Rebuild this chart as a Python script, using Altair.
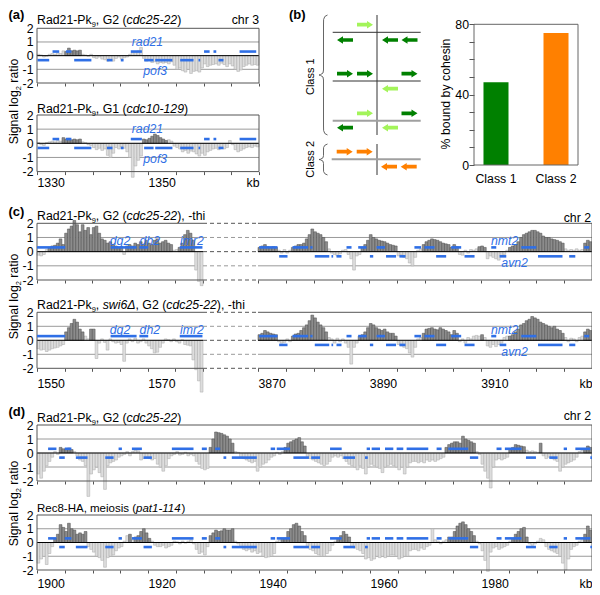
import altair as alt
import pandas as pd

W, H = 584, 582
FONT = "Liberation Sans"
FS = 12.3
SUB = 7.5
BLUE = "#2f6fe6"
FRAME = "#555555"
GRID = "#9a9a9a"
DARK_FILL, DARK_EDGE = "#8c8c8c", "#4a4a4a"
LIGHT_FILL, LIGHT_EDGE = "#dddddd", "#a8a8a8"
GREEN, LIGHTGREEN, ORANGE = "#008000", "#a3f45a", "#ff8000"


def nums(s):
    return [float(t) for t in s.split()]


# ---------------- (a) chr 3, 1330-1370 kb (0.5 kb probes) ----------------
A_START = 1330.0
A_G2 = nums("""
0.1 0.05 -0.1 -0.05 0.1 0.15 0.1 0.2 0.15 0.35
0.3 0.55 0.35 0.4 0.35 0.4 0.1 0.05 -0.05 0.1
-0.15 -0.2 -0.1 -0.25 -0.3 -0.4 -0.35 -0.4 -0.2 -0.1
-0.25 -0.15 -0.1 0.1 0.25 0.3 0.35 0.6 -0.2 -0.4
-0.35 -0.5 -0.45 -0.6 -0.5 -0.55 -0.5 -0.6 -0.45 -0.7
-1.0 -0.9 -1.1 -1.2 -1.0 -1.3 -1.15 -1.1 -1.2 -0.9
-0.6 -0.8 -0.7 -0.65 -0.6 -0.7 -0.55 -0.65 -0.8 -0.6
-0.75 -1.0 -1.15 -1.05 -0.8 -0.7 -0.6 -0.7 -0.65 -0.7
""")
A_G1 = nums("""
0.05 -0.1 -0.15 0.05 0.1 0.15 0.1 0.2 0.15 0.4
0.3 0.35 0.25 0.3 0.25 0.3 0.1 0.05 -0.1 -0.15
-0.3 -0.45 -0.35 -0.5 -0.4 -0.85 -1.0 -0.7 -0.3 -0.4
-0.25 -0.35 -0.6 -1.0 -2.4 -1.6 -1.2 -0.9 0.3 0.25
0.35 0.5 0.65 0.55 0.4 0.3 0.2 0.25 0.15 -0.2
-0.3 -0.4 -0.6 -0.5 -0.7 -0.55 -0.6 -0.75 -0.9 -0.7
-0.85 -0.6 -0.5 -0.4 -0.35 -0.45 -0.3 -0.4 -0.3 0.2
-0.1 -0.45 -0.6 -0.5 -0.4 -0.3 -0.25 -0.3 -0.2 -0.25
""")
A_G2_BOUND = [(1335.0, 1338.0)]
A_G1_BOUND = [(1334.5, 1338.0), (1349.0, 1353.5)]
A_GENES_FWD = [(1332.8, 1334.0), (1335.2, 1336.2), (1346.9, 1348.9), (1360.1, 1361.1),
               (1361.8, 1362.3), (1366.5, 1369.5)]
A_GENES_REV = [(1330.1, 1332.2), (1336.7, 1339.8), (1342.6, 1343.6), (1345.1, 1345.6),
               (1349.3, 1351.0), (1351.3, 1354.4), (1355.8, 1358.2), (1359.1, 1359.4),
               (1362.7, 1363.6)]
A_LABELS = [("rad21", 1349.9, 1.03), ("pof3", 1351.3, -1.1)]

# ---------------- (c) chr 2, 1550-1580 and 3870-3930 kb ----------------
CL_START = 1550.0
CR_START = 3870.0
CL_G2 = nums("""
-0.25 -0.3 -0.2 0.15 0.3 0.4 0.45 0.6 0.9 0.5
1.3 1.6 1.8 2.2 1.9 1.4 1.9 1.5 1.7 1.2
1.7 1.8 1.3 0.9 0.8 0.6 0.7 0.5 0.4 0.3
0.35 -0.2 0.4 0.5 0.4 0.6 0.5 0.7 0.5 0.8
0.6 0.5 0.8 0.9 0.6 0.7 0.8 0.6 0.5 0.1
0.15 0.3 0.6 1.2 1.5 1.3 0.8 -1.3 -2.1 -2.4
""")
CL_SWI6 = nums("""
-0.6 -0.7 -0.65 -0.8 -0.7 -0.6 -0.55 -0.5 -0.4 -0.3
0.6 0.9 1.2 1.5 1.3 0.8 0.6 0.3 0.1 0.8
0.8 -1.3 -0.2 0.1 -0.15 -0.7 0.1 -0.1 -0.2 -0.15
-0.3 -1.5 -0.2 0.1 -0.1 0.15 -0.2 -0.1 0.1 -0.2
-0.4 -0.6 -0.9 -0.85 -0.5 -0.2 0.1 0.05 -0.1 0.1
-0.1 -0.2 0.05 -0.3 -0.35 -0.4 -1.4 -2.1 -2.9 -3.7
""")
CR_G2 = nums("""
0.3 0.4 0.5 0.35 0.3 0.35 0.3 0.1 -0.1 0.15
-0.1 0.1 0.3 0.4 0.5 0.5 0.6 0.9 1.2 1.6
1.4 1.3 1.2 1.0 0.7 0.2 -0.1 -0.2 -0.3 -0.15
0.1 0.15 -0.2 -0.5 -1.3 -0.3 -0.2 0.3 0.5 0.8
1.2 1.0 0.9 0.8 0.75 0.7 0.6 0.5 0.45 0.4
-0.3 -0.2 -0.4 -0.5 -0.8 -1.0 -0.4 0.1 0.2 0.5
0.7 0.8 0.9 0.85 0.8 0.7 0.6 0.55 0.5 0.3
0.5 0.35 -0.2 -0.25 0.1 -0.1 0.15 0.1 0.2 0.35
0.4 0.3 -0.5 -0.3 -0.4 -0.5 -0.6 -0.3 -0.2 0.1
0.3 0.4 0.5 0.7 1.0 1.2 1.3 1.4 1.5 1.5
1.4 1.3 1.1 1.0 1.0 0.9 0.85 0.8 0.7 0.6
0.2 0.1 0.15 0.1 0.2 0.1 0.15 0.6 0.8 0.7
""")
CR_SWI6 = nums("""
0.4 0.5 0.7 0.6 0.5 0.45 0.4 -0.1 -0.2 -0.15
0.1 -0.1 0.3 0.45 0.5 0.7 0.9 1.1 1.4 1.8
1.6 1.3 1.1 0.9 0.6 0.2 0.1 -0.2 0.15 -0.1
0.1 -0.2 -0.5 -1.7 -0.5 -0.2 0.3 0.4 0.6 0.9
1.2 1.1 0.9 0.8 0.7 0.8 0.6 0.5 0.5 0.3
-0.3 -0.4 -0.5 -0.6 -0.9 -1.2 -0.5 0.1 0.2 0.5
0.8 0.85 0.9 0.8 0.75 0.9 0.8 0.7 0.6 0.4
0.7 0.5 -0.1 0.1 -0.2 0.2 0.1 0.3 0.35 0.3
0.4 0.2 -0.4 -0.5 -0.3 -0.45 -0.3 -0.2 0.2 0.3
0.3 0.4 0.6 0.8 1.1 1.2 1.4 1.5 1.7 1.6
1.5 1.3 1.2 1.1 1.0 0.9 1.0 0.8 0.7 0.5
0.2 -0.1 0.15 0.1 -0.1 0.2 0.3 0.6 0.8 0.7
""")
C_G2_BOUND = [(1552.0, 1574.5), (1575.5, 1578.5), (3870.0, 3873.5), (3876.0, 3882.5),
              (3888.5, 3895.0), (3899.5, 3906.0), (3909.5, 3911.0), (3915.0, 3925.0),
              (3928.5, 3930.0)]
C_SWI6_BOUND = [(1555.0, 1558.5), (1559.5, 1560.5), (3870.0, 3873.5), (3876.0, 3882.5),
                (3888.0, 3895.0), (3899.5, 3906.0), (3910.0, 3910.5), (3915.0, 3925.0),
                (3928.5, 3930.0)]
C_GENES_FWD = [(1550.0, 1555.1), (1563.3, 1568.0), (1568.5, 1570.1), (1575.8, 1579.9),
               (3870.2, 3873.5), (3876.2, 3879.0), (3879.4, 3879.8), (3885.9, 3886.8),
               (3888.0, 3889.5), (3891.3, 3892.8), (3898.1, 3899.3), (3899.9, 3901.7),
               (3904.7, 3906.5), (3911.9, 3912.8), (3917.3, 3920.0), (3928.6, 3929.5)]
C_GENES_REV = [(3873.8, 3875.3), (3880.2, 3882.8), (3883.2, 3883.5), (3884.1, 3885.0),
               (3890.1, 3890.7), (3893.0, 3894.8), (3895.4, 3896.5), (3902.0, 3903.8),
               (3907.1, 3908.9), (3913.4, 3914.6), (3920.3, 3924.7), (3925.9, 3927.0)]
C_LABELS = [("dg2", 1565.0, 0.75), ("dh2", 1570.4, 0.75), ("imr2", 1578.0, 0.75),
            ("nmt2", 3914.3, 0.76), ("avn2", 3916.1, -0.83)]

# ---------------- (d) chr 2, 1900-2000 kb ----------------
D_START = 1900.0
D_RAD21 = nums("""
-1.5 -1.8 -1.3 -0.9 -0.6 -0.3 0.1 -0.1 0.4 0.3
0.3 0.35 0.25 0.1 -0.2 -0.5 -0.6 -0.9 -3.1 -1.5
-1.2 -1.0 -1.4 -1.7 -2.6 -0.9 -0.7 -0.6 -0.5 -0.3
-0.2 -0.1 0.1 -0.2 0.1 0.2 0.15 -0.5 -0.4 -0.35
-0.4 -0.5 -0.4 -0.8 -1.0 -1.3 -0.9 -0.4 -0.2 -0.1
0.1 -0.15 -0.1 0.05 -0.2 -0.1 -0.2 -0.6 -0.8 -1.1
-1.2 -1.1 0.4 1.0 1.5 1.45 1.4 1.3 1.2 1.0
0.7 0.1 0.05 -0.3 -0.4 -0.5 -0.6 -0.7 -0.6 -1.3
-1.0 -0.8 -0.7 -0.5 -0.3 -0.2 0.05 -0.1 0.1 0.4
0.7 0.8 0.9 1.0 1.1 0.8 0.5 -0.3 -0.4 -0.5
-0.6 -0.7 -0.8 -0.9 -0.8 -0.6 -0.3 -0.2 -0.3 -0.2
-0.4 -0.6 -0.8 -0.9 -1.0 -1.2 -0.9 -1.1 -1.5 -1.0
-0.8 -0.9 -1.0 -1.1 -1.4 -1.0 -0.9 -0.8 -0.9 -1.0
-1.2 -1.0 -1.5 -1.0 -0.7 -0.6 -0.6 -0.7 -0.6 -0.7
-0.5 -0.6 -0.5 -0.6 -0.5 -0.4 -0.3 0.4 0.6 0.7
0.8 0.8 0.7 1.2 1.0 0.9 0.8 0.7 0.1 -0.1
-0.8 -1.3 -1.8 -2.5 -1.0 -0.5 -0.4 -0.5 -0.4 -0.3
0.3 0.4 0.6 0.55 0.5 0.45 0.2 0.1 0.15 0.1
0.05 0.7 -0.2 -0.4 -0.3 -0.4 -0.5 -0.6 -1.3 -1.0
-0.8 -0.7 -0.6 -0.5 -0.3 0.1 0.2 0.3 0.5 0.4
""")
D_REC8 = nums("""
-1.5 -1.2 -1.0 -1.6 -0.8 -0.3 0.3 0.6 1.3 1.1
0.8 1.4 1.0 0.9 0.6 0.7 0.6 0.8 -0.3 -0.5
-0.7 -1.0 -1.1 -1.3 -1.8 -1.1 -1.0 -0.9 -0.6 -0.4
-0.3 0.1 0.5 0.6 0.2 0.4 0.5 0.8 1.0 0.7
0.3 0.1 -0.2 -0.3 -0.3 -0.2 -0.4 -0.3 -0.2 0.1
0.05 -0.1 0.1 -0.05 0.1 0.2 -0.1 -0.5 -0.8 -0.7
-0.9 -0.3 0.5 0.7 0.9 0.8 0.85 1.0 0.9 0.9
1.0 0.1 -0.1 -0.3 -0.5 -0.6 -0.5 -0.7 -0.6 -0.8
-0.7 -1.0 -1.1 -1.05 -1.0 -0.8 0.1 0.2 0.3 0.3
0.8 1.0 1.3 1.4 1.2 0.8 0.5 -0.3 -0.5 -0.6
-0.8 -0.9 -1.0 -1.0 -0.8 -0.6 -0.2 0.1 0.3 0.5
0.8 0.6 0.4 -0.3 -0.4 -0.5 -0.6 -0.8 -1.2 -1.1
-1.3 -1.2 -1.0 -1.1 -1.0 -1.1 -1.0 -0.9 -0.9 -1.0
-1.2 -1.1 -1.0 -1.0 -0.6 -0.5 -0.5 -0.6 -0.4 -0.5
-0.3 -0.2 1.0 0.2 0.1 -0.1 0.1 0.2 0.4 0.4
0.8 1.2 1.4 1.5 1.3 1.0 0.8 0.5 0.1 -0.1
-0.6 -1.3 -2.1 -0.7 -0.4 -0.3 -0.5 -0.4 -0.3 -0.2
0.1 0.3 0.6 0.8 1.0 1.1 0.4 -0.1 -0.2 -0.1
0.1 0.3 0.2 -0.3 -0.5 -0.6 -0.7 -0.8 -1.0 -1.5
-2.0 -1.2 -0.5 -0.3 -0.2 0.1 0.3 0.6 1.2 0.9
""")
D_RAD21_BOUND = [(1904.0, 1906.5), (1931.0, 1935.5), (1944.5, 1948.5), (1973.5, 1979.0),
                 (1985.0, 1988.0), (1990.5, 1991.0), (1998.5, 2000.0)]
D_REC8_BOUND = [(1903.0, 1909.0), (1916.5, 1917.0), (1917.5, 1920.5), (1931.0, 1935.5),
                (1944.0, 1948.5), (1954.0, 1956.5), (1974.0, 1979.0), (1985.5, 1988.5),
                (1998.5, 2000.0)]
D_GENES_FWD = [(1902.0, 1903.5), (1905.0, 1906.2), (1914.7, 1915.3), (1917.1, 1918.9),
               (1924.3, 1928.2), (1929.7, 1930.6), (1932.1, 1933.0), (1942.1, 1942.9),
               (1943.2, 1945.6), (1952.8, 1954.9), (1959.4, 1960.0), (1960.3, 1961.8),
               (1962.7, 1964.2), (1964.8, 1966.0), (1966.6, 1970.5), (1972.0, 1972.9),
               (1974.1, 1977.7), (1982.8, 1983.7), (1984.3, 1987.3), (1994.9, 1995.5),
               (1997.0, 1999.7)]
D_GENES_REV = [(1904.0, 1905.0), (1907.0, 1909.1), (1912.3, 1913.8), (1919.2, 1920.7),
               (1933.6, 1934.1), (1935.1, 1939.6), (1946.2, 1949.0), (1949.4, 1951.0),
               (1955.2, 1957.3), (1959.1, 1959.6), (1978.0, 1979.5), (1988.1, 1989.9),
               (1992.3, 1993.8), (1999.7, 2000.0)]

# ---------------- (b) ----------------
CLASSES = ["Class 1", "Class 2"]
PCT_BOUND = [47, 75]
# schematic: arrow centres (schematic units), direction and colour class
ARROW_X = [65, 45, 90, 109.5, 45, 65, 109.5, 90, 65, 109.5, 45, 90, 44.7, 64.7, 89, 108.7]
ARROW_Y = [24.7, 40, 40, 40, 73.7, 73.7, 73.7, 88.7, 113.3, 113.3, 127.7, 127.7,
           151.7, 151.7, 166.7, 166.7]
ARROW_DIR = ["R", "L", "L", "L", "R", "R", "R", "L", "R", "R", "L", "L", "R", "R", "L", "L"]
ARROW_COL = ["light", "dark", "dark", "dark", "dark", "dark", "dark", "light", "light", "dark",
             "dark", "light", "orange", "orange", "orange", "orange"]
DIAG_LINES = [(77, 77, 15, 135, "dark"), (77, 77, 144, 175, "dark"),
              (32.7, 120.7, 32.3, 32.3, "dark"), (32.7, 120.7, 81, 81, "dark"),
              (32.7, 120.7, 120.7, 120.7, "gray"), (31.7, 120.7, 159.3, 159.3, "gray")]
BRACE1 = [(27.5, 15), (24.8, 16.5), (23.6, 19.5), (23.5, 24), (23.5, 70), (23, 73), (20.5, 74.6),
          (19, 75), (20.5, 75.4), (23, 77), (23.5, 80), (23.5, 126), (23.6, 130.5),
          (24.8, 133.5), (27.5, 135)]
BRACE2 = [(27.5, 144), (24.8, 145.3), (23.6, 147.5), (23.5, 150), (23.5, 155.5), (23, 157.8),
          (20.5, 159.2), (19, 159.5), (20.5, 159.8), (23, 161.2), (23.5, 163.5), (23.5, 169),
          (23.6, 171.5), (24.8, 173.7), (27.5, 175)]

# ---------------- helpers ----------------
AW = {' ': 278, '%': 889, '(': 333, ')': 333, ',': 278, '-': 333, '.': 278, 'Δ': 668,
      'A': 667, 'B': 667, 'C': 722, 'D': 722, 'E': 667, 'F': 611, 'G': 778, 'H': 722, 'I': 278,
      'J': 500, 'K': 667, 'L': 556, 'M': 833, 'N': 722, 'O': 778, 'P': 667, 'Q': 778, 'R': 722,
      'S': 667, 'T': 611, 'U': 722, 'V': 667, 'W': 944, 'X': 667, 'Y': 667, 'Z': 611,
      'a': 556, 'b': 556, 'c': 500, 'd': 556, 'e': 556, 'f': 278, 'g': 556, 'h': 556, 'i': 222,
      'j': 222, 'k': 500, 'l': 222, 'm': 833, 'n': 556, 'o': 556, 'p': 556, 'q': 556, 'r': 333,
      's': 500, 't': 278, 'u': 556, 'v': 500, 'w': 722, 'x': 500, 'y': 500, 'z': 500}


def tw(s, fs):
    return sum(AW.get(c, 556) for c in s) * fs / 1000.0


texts = []


def _pieces(pieces, size):
    # split leading spaces off (SVG trims them) and return (text, kind, fs, advance_before)
    out = []
    for t, k in pieces:
        fs = SUB if k == "s" else size
        lead = len(t) - len(t.lstrip(" "))
        out.append((t.strip(" "), k, fs, tw(" " * lead, fs), tw(t.lstrip(" "), fs)))
    return out


def add_run(pieces, x, y, size=FS):
    pos = 0.0
    for t, k, fs, pre, adv in _pieces(pieces, size):
        pos += pre
        texts.append(dict(t=t, x=x + pos, y=y + (3.0 if k == "s" else 0.0), k=k, a=0, fs=fs))
        pos += adv


def add_vrun(pieces, xb, yc, size=FS):
    ps = _pieces(pieces, size)
    total = sum(p[3] + p[4] for p in ps)
    pos = 0.0
    y0 = yc + total / 2.0
    for t, k, fs, pre, adv in ps:
        pos += pre
        texts.append(dict(t=t, x=xb + (3.0 if k == "s" else 0.0), y=y0 - pos, k=k, a=270, fs=fs))
        pos += adv


def sc(dom, rng):
    return alt.Scale(domain=list(dom), range=list(rng), nice=False, zero=False)


layers = []


def track(values, start, bound, gfwd, grev, labels, xdom, xrng, yrng,
          xlabels=None, ylabels=True, left=True, right=True, lab_gap=4, kb_end=False):
    xs, ys = sc(xdom, xrng), sc((-2, 2), yrng)

    def X(f, axis=None):
        return alt.X(f, scale=xs, axis=axis)

    def Y(f, axis=None):
        return alt.Y(f, scale=ys, axis=axis)

    kb = [start + 0.5 * i for i in range(len(values))]
    df = pd.DataFrame({"kb": kb, "v": values})
    df["kb2"] = df["kb"] + 0.5
    df["dark"] = [bool(v > 0 and any(a <= k + 0.25 < b for a, b in bound))
                  for k, v in zip(kb, values)]

    grid = pd.DataFrame({"x": [xdom[0]] * 2, "x2": [xdom[1]] * 2, "y": [1, -1]})
    layers.append(alt.Chart(grid).mark_rule(color=GRID, strokeWidth=1).encode(
        x=X("x:Q"), x2="x2:Q", y=Y("y:Q")))
    for flag, fill, edge in [(False, LIGHT_FILL, LIGHT_EDGE), (True, DARK_FILL, DARK_EDGE)]:
        sub = df[df["dark"] == flag]
        layers.append(alt.Chart(sub).mark_bar(fill=fill, stroke=edge, strokeWidth=0.5).encode(
            x=X("kb:Q"), x2="kb2:Q", y=Y("v:Q"), y2=alt.datum(0)))
    zero = pd.DataFrame({"x": [xdom[0]], "x2": [xdom[1]], "y": [0]})
    layers.append(alt.Chart(zero).mark_rule(color="#000000", strokeWidth=1).encode(
        x=X("x:Q"), x2="x2:Q", y=Y("y:Q")))

    ticks = list(range(int(xdom[0]), int(xdom[1]) + 1, 5))
    xa = dict(orient="bottom", offset=yrng[0] - H, values=ticks, tickSize=3, tickColor=FRAME,
              domain=False, grid=False, title=None, labelFlush=False, labelOverlap=False)
    if xlabels is None:
        xa["labels"] = False
    else:
        end = int(xdom[1])
        endlab = "kb" if kb_end else ""
        xa.update(labelExpr=f"datum.value == {end} ? '{endlab}' : ((datum.value - {xlabels}) % 20 == 0 ? '' + datum.value : '')",
                  labelAlign={"condition": {"test": f"datum.value == {end}", "value": "right"},
                              "value": "left"},
                  labelPadding=lab_gap - 3, labelFont=FONT, labelFontSize=FS, labelColor="#000000")
    ya = None
    if ylabels:
        ya = alt.Axis(orient="left", offset=-xrng[0], values=[-2, -1, 0, 1, 2],
                      labelExpr="datum.value < 0 ? '-' + (-datum.value) : '' + datum.value",
                      tickSize=0, labelPadding=4, domain=False, grid=False, title=None,
                      labelFont=FONT, labelFontSize=FS, labelColor="#000000", labelFlush=False)
    fr = pd.DataFrame({"x": [xdom[0]] * 2, "x2": [xdom[1]] * 2, "y": [2, -2]})
    layers.append(alt.Chart(fr).mark_rule(color=FRAME, strokeWidth=1).encode(
        x=X("x:Q", alt.Axis(**xa)), x2="x2:Q", y=Y("y:Q", ya)))
    sides = [xdom[0]] * left + [xdom[1]] * right
    if sides:
        sd = pd.DataFrame({"x": sides, "y": [-2] * len(sides), "y2": [2] * len(sides)})
        layers.append(alt.Chart(sd).mark_rule(color=FRAME, strokeWidth=1).encode(
            x=X("x:Q"), y=Y("y:Q"), y2="y2:Q"))

    gl = [(a, b, 0.3) for a, b in gfwd] + [(a, b, -0.33) for a, b in grev]
    gdf = pd.DataFrame(gl, columns=["a", "b", "y"])
    gdf = gdf[(gdf["a"] >= xdom[0]) & (gdf["b"] <= xdom[1])]
    layers.append(alt.Chart(gdf).mark_rule(color=BLUE, strokeWidth=2.6, strokeCap="butt").encode(
        x=X("a:Q"), x2="b:Q", y=Y("y:Q")))
    ldf = pd.DataFrame(labels, columns=["name", "kb", "y"])
    ldf = ldf[(ldf["kb"] >= xdom[0]) & (ldf["kb"] <= xdom[1])]
    if len(ldf):
        layers.append(alt.Chart(ldf).mark_text(font=FONT, fontSize=FS, fontStyle="italic",
                                               color=BLUE, align="center", baseline="middle").encode(
            x=X("kb:Q"), y=Y("y:Q"), text="name:N"))
    return ys


# ---------------- (a) ----------------
AX, AR = (1330, 1370), (29, 251)
track(A_G2, A_START, A_G2_BOUND, A_GENES_FWD, A_GENES_REV, A_LABELS, AX, AR, (75, 20.3))
track(A_G1, A_START, A_G1_BOUND, A_GENES_FWD, A_GENES_REV, A_LABELS, AX, AR, (163.6, 107),
      xlabels=1330, lab_gap=4.5, kb_end=True)

# ---------------- (c) ----------------
CLX, CLR = (1550, 1580), (29, 195)
CRX, CRR = (3870, 3930), (250, 584)
for vals_l, vals_r, bnd, yr, lab in [(CL_G2, CR_G2, C_G2_BOUND, (272, 215.3), None),
                                     (CL_SWI6, CR_SWI6, C_SWI6_BOUND, (360.3, 304.3), True)]:
    ys_left = track(vals_l, CL_START, bnd, C_GENES_FWD, C_GENES_REV, C_LABELS, CLX, CLR, yr,
                    xlabels=1550 if lab else None, right=False, lab_gap=9.5)
    track(vals_r, CR_START, bnd, C_GENES_FWD, C_GENES_REV, C_LABELS, CRX, CRR, yr,
          xlabels=3870 if lab else None, ylabels=False, left=False, lab_gap=9.5, kb_end=True)
    for yv, col in [([2, 0, -2], FRAME), ([1, -1], GRID)]:
        dd = pd.DataFrame({"y": yv})
        layers.append(alt.Chart(dd).mark_rule(color=col, strokeWidth=1, strokeDash=[4, 3]).encode(
            x=alt.value(CLR[1]), x2=alt.value(CRR[0]), y=alt.Y("y:Q", scale=ys_left, axis=None)))

# ---------------- (d) ----------------
DX, DR = (1900, 2000), (29, 584)
track(D_RAD21, D_START, D_RAD21_BOUND, D_GENES_FWD, D_GENES_REV, [], DX, DR, (473, 417))
track(D_REC8, D_START, D_REC8_BOUND, D_GENES_FWD, D_GENES_REV, [], DX, DR, (562, 507),
      xlabels=1900, lab_gap=7, kb_end=True)

# ---------------- (b) schematic ----------------
DXS = sc((0, 140), (292, 432))
DYS = sc((0, 185), (-8, 177))
PATH_R = "M-1,-0.23 L0.25,-0.23 L0.25,-0.46 L1,0 L0.25,0.46 L0.25,0.23 L-1,0.23 Z"
PATH_L = "M1,-0.23 L-0.25,-0.23 L-0.25,-0.46 L-1,0 L-0.25,0.46 L-0.25,0.23 L1,0.23 Z"
dl = pd.DataFrame(DIAG_LINES, columns=["x", "x2", "y", "y2", "k"])
for k, col, sw in [("dark", "#333333", 1), ("gray", "#a0a0a0", 2)]:
    layers.append(alt.Chart(dl[dl["k"] == k]).mark_rule(color=col, strokeWidth=sw).encode(
        x=alt.X("x:Q", scale=DXS, axis=None), x2="x2:Q",
        y=alt.Y("y:Q", scale=DYS, axis=None), y2="y2:Q"))
br = pd.DataFrame([dict(b=1, o=i, x=x, y=y) for i, (x, y) in enumerate(BRACE1)] +
                  [dict(b=2, o=i, x=x, y=y) for i, (x, y) in enumerate(BRACE2)])
layers.append(alt.Chart(br).mark_line(color="#555555", strokeWidth=0.9).encode(
    x=alt.X("x:Q", scale=DXS, axis=None), y=alt.Y("y:Q", scale=DYS, axis=None),
    detail="b:N", order="o:Q"))
arrows = pd.DataFrame({"x": ARROW_X, "y": ARROW_Y, "d": ARROW_DIR, "c": ARROW_COL})
layers.append(alt.Chart(arrows).mark_point(filled=True, size=256, opacity=1, strokeWidth=0).encode(
    x=alt.X("x:Q", scale=DXS, axis=None), y=alt.Y("y:Q", scale=DYS, axis=None),
    shape=alt.Shape("d:N", scale=alt.Scale(domain=["R", "L"], range=[PATH_R, PATH_L]), legend=None),
    fill=alt.Fill("c:N", scale=alt.Scale(domain=["dark", "light", "orange"],
                                         range=[GREEN, LIGHTGREEN, ORANGE]), legend=None)))

# ---------------- (b) bar chart ----------------
BL, BRt, BT, BB = 466, 570, 16.3, 157
bdf = pd.DataFrame({"cls": CLASSES, "pct": PCT_BOUND})
layers.append(alt.Chart(bdf).mark_bar().encode(
    x=alt.X("cls:N", scale=alt.Scale(domain=CLASSES, range=[BL, BRt], paddingInner=0.583,
                                     paddingOuter=0.158),
            axis=alt.Axis(orient="bottom", offset=BB - H, ticks=False, tickSize=0, domain=False,
                          labelAngle=0, labelPadding=7.5, title=None, labelFont=FONT,
                          labelFontSize=FS, labelColor="#000000")),
    y=alt.Y("pct:Q", scale=sc((0, 80), (BB, BT)),
            axis=alt.Axis(orient="left", offset=-BL, values=list(range(0, 81, 10)),
                          labelExpr="datum.value % 40 == 0 ? datum.label : ''", tickSize=5,
                          tickColor=FRAME, labelPadding=0.5, domain=False, grid=False, title=None,
                          labelFont=FONT, labelFontSize=FS, labelColor="#000000",
                          labelFlush=False)),
    color=alt.Color("cls:N", scale=alt.Scale(domain=CLASSES, range=[GREEN, ORANGE]), legend=None)))
one = pd.DataFrame({"z": [0]})
for enc in [dict(x=alt.value(BL), x2=alt.value(BRt), y=alt.value(BT)),
            dict(x=alt.value(BL), x2=alt.value(BRt), y=alt.value(BB)),
            dict(x=alt.value(BL), y=alt.value(BT), y2=alt.value(BB)),
            dict(x=alt.value(BRt), y=alt.value(BT), y2=alt.value(BB))]:
    layers.append(alt.Chart(one).mark_rule(color="#666666", strokeWidth=1).encode(**enc))

# ---------------- texts ----------------
PK = [("Rad21-Pk", "n"), ("9", "s")]
texts.append(dict(t="(a)", x=0.5, y=10.5, k="b", a=0, fs=13))
texts.append(dict(t="(b)", x=281, y=10.5, k="b", a=0, fs=13))
texts.append(dict(t="(c)", x=0.5, y=207.6, k="b", a=0, fs=13))
texts.append(dict(t="(d)", x=0.5, y=407.5, k="b", a=0, fs=13))
add_run(PK + [(", G2 (", "n"), ("cdc25-22", "i"), (")", "n")], 29, 16)
add_run(PK + [(", G1 (", "n"), ("cdc10-129", "i"), (")", "n")], 29, 104.5)
add_run(PK + [(", G2 (", "n"), ("cdc25-22", "i"), ("), -thi", "n")], 29, 212)
add_run(PK + [(", ", "n"), ("swi6Δ", "i"), (", G2 (", "n"), ("cdc25-22", "i"), ("), -thi", "n")], 29, 301)
add_run(PK + [(", G2 (", "n"), ("cdc25-22", "i"), (")", "n")], 29, 413.5)
add_run([("Rec8-HA, meiosis (", "n"), ("pat1-114", "i"), (")", "n")], 29, 503.5, size=11.5)
texts.append(dict(t="chr 3", x=251, y=16, k="r", a=0, fs=FS))
texts.append(dict(t="chr 2", x=583, y=213.5, k="r", a=0, fs=FS))
texts.append(dict(t="chr 2", x=583, y=411.5, k="r", a=0, fs=FS))
YT = [("Signal log", "n"), ("2", "s"), (" ratio", "n")]
add_vrun(YT, 10, 93.5)
add_vrun(YT, 10, 288.5)
add_vrun(YT, 10, 495.5)
add_vrun([("Class 1", "n")], 306, 68.7, size=11)
add_vrun([("Class 2", "n")], 306, 151.3, size=11)
add_vrun([("% bound by cohesin", "n")], 441.5, 86)

TX = sc((0, W), (0, W))
TY = sc((0, H), (0, H))
tdf = pd.DataFrame(texts)
for (k, a), g in tdf.groupby(["k", "a"]):
    props = dict(font=FONT, baseline="alphabetic", align="right" if k == "r" else "left",
                 angle=int(a), color="#000000")
    if k == "i":
        props["fontStyle"] = "italic"
    if k == "b":
        props["fontWeight"] = "bold"
    layers.append(alt.Chart(g.reset_index(drop=True)).mark_text(**props).encode(
        x=alt.X("x:Q", scale=TX, axis=None), y=alt.Y("y:Q", scale=TY, axis=None),
        text="t:N", size=alt.Size("fs:Q", scale=None, legend=None)))

chart = alt.layer(*layers).resolve_scale(x="independent", y="independent").properties(
    width=W, height=H, padding=0, autosize=alt.AutoSizeParams(type="none")
).configure_view(stroke=None)
chart.save("out.html", embed_options={"renderer": "svg", "actions": False})
